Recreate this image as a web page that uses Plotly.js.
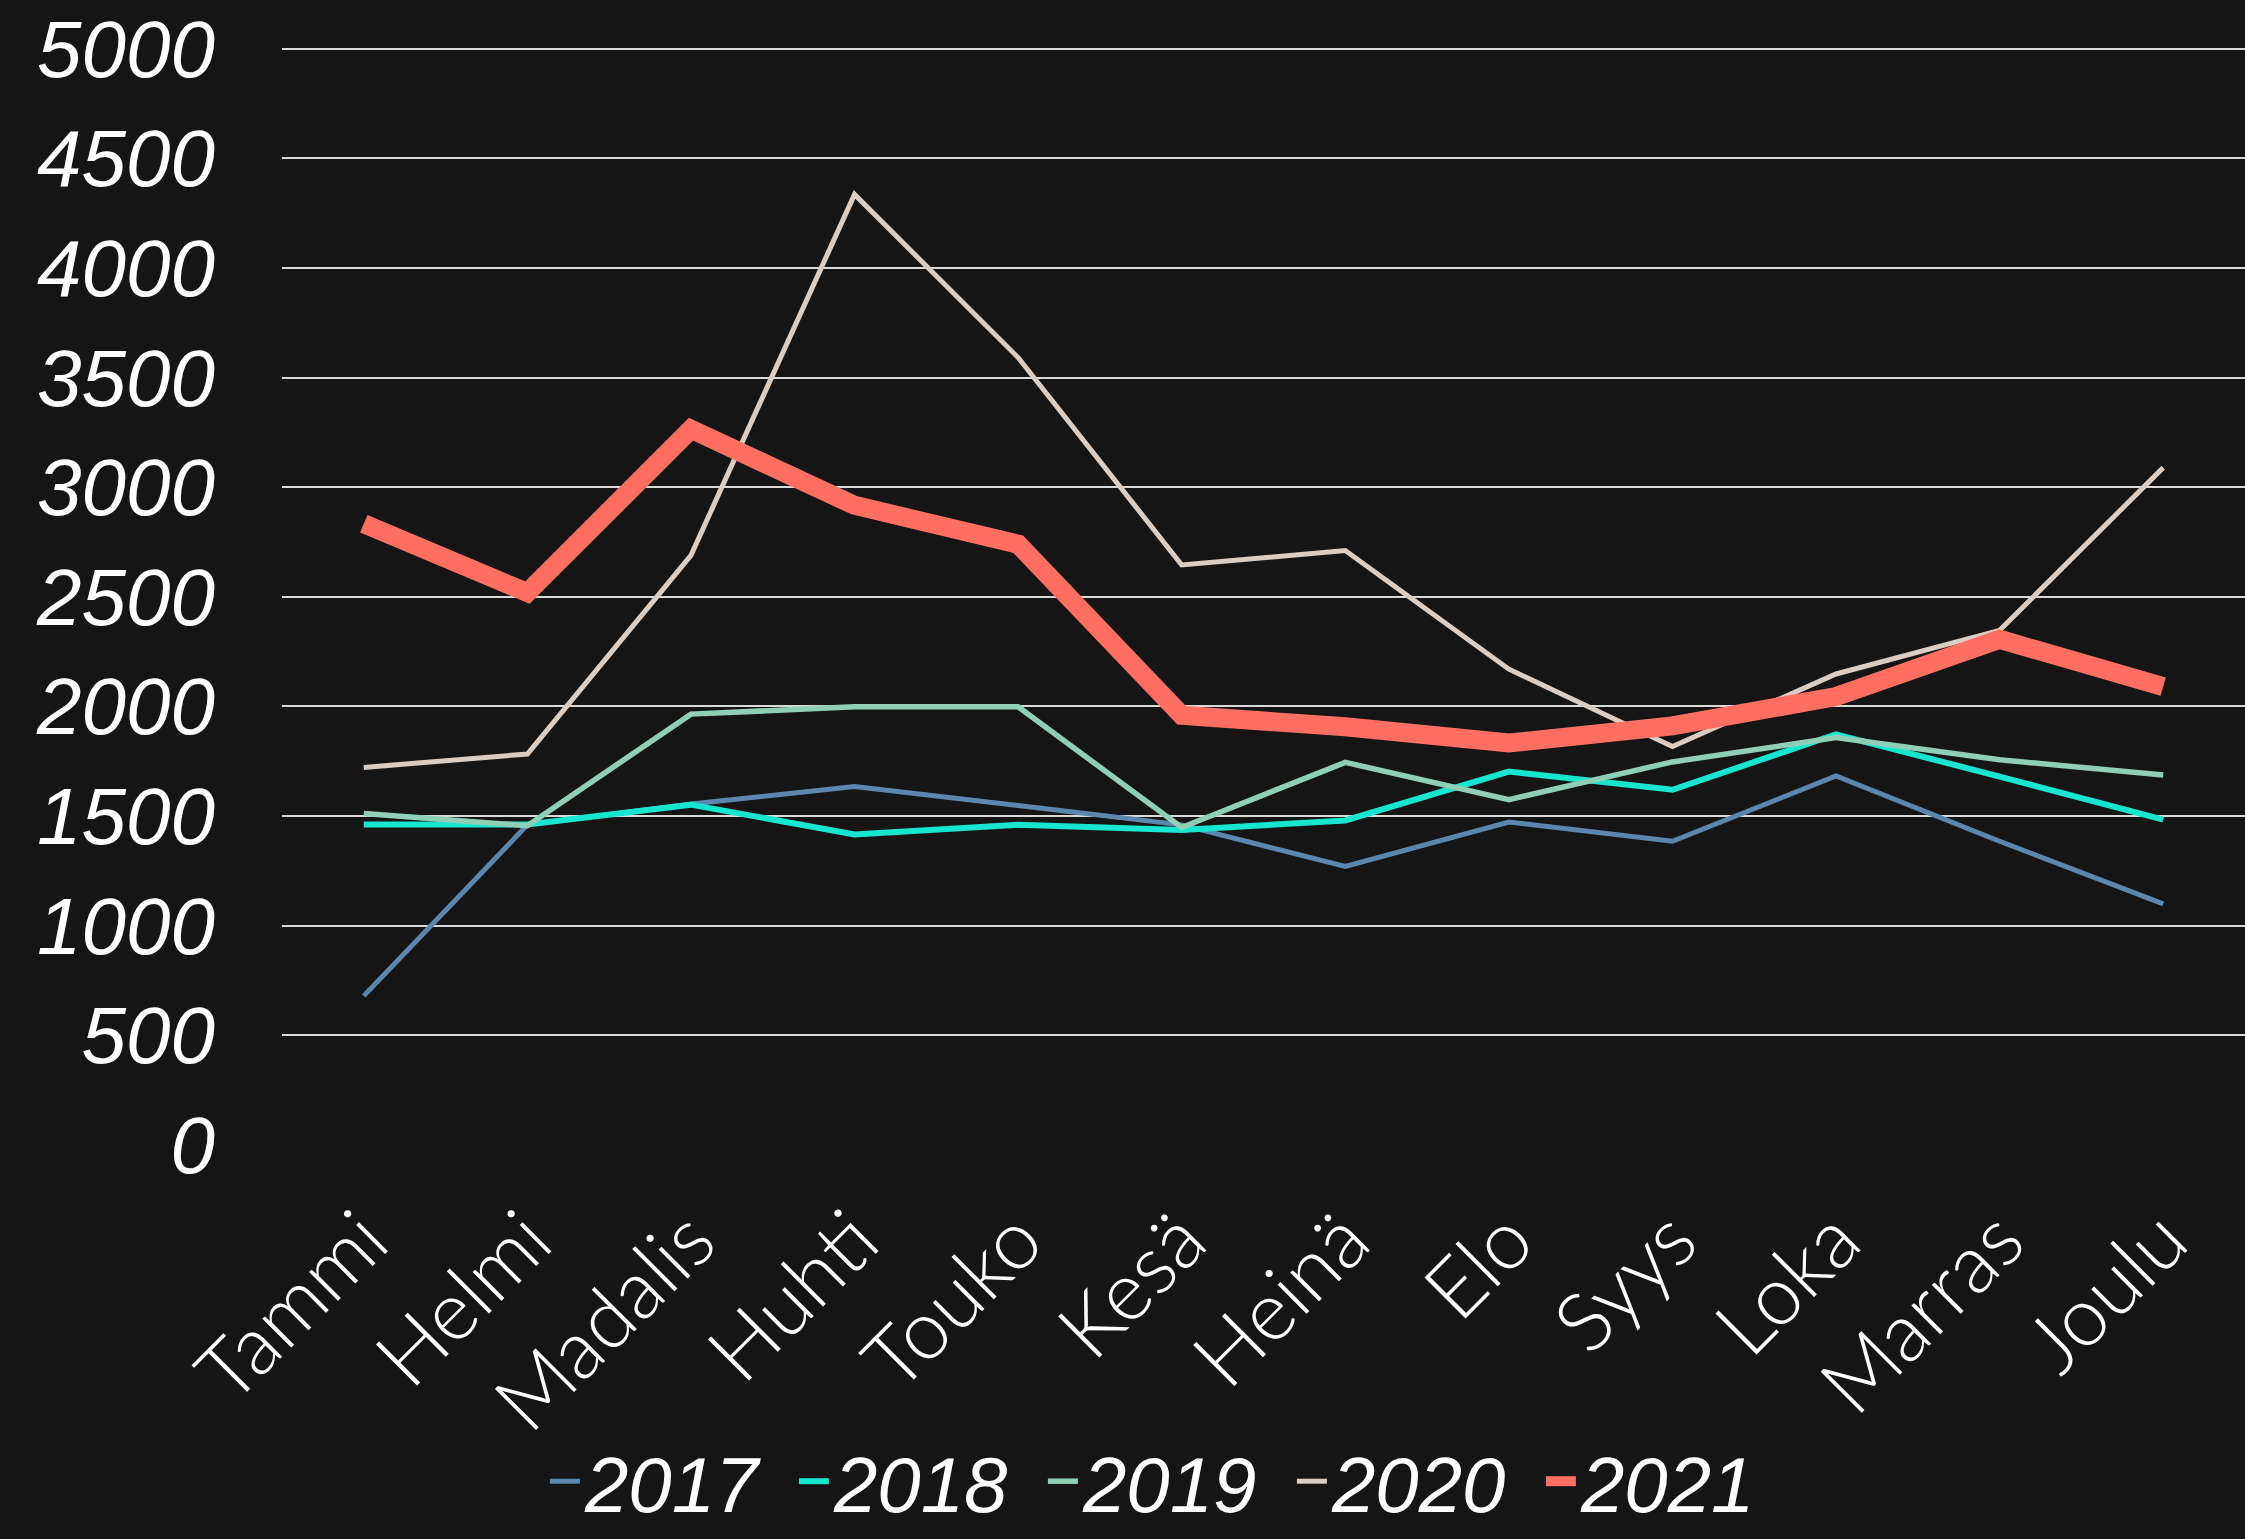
<!DOCTYPE html>
<html>
<head>
<meta charset="utf-8">
<script src="https://cdn.plot.ly/plotly-3.0.1.min.js"></script>
<style>
html,body{margin:0;padding:0;background:#151515;}
#chart{width:2245px;height:1539px;}
</style>
</head>
<body>
<div id="chart"></div>
<script>
const months = ["Tammi","Helmi","Madalis","Huhti","Touko","Kesä","Heinä","Elo","Syys","Loka","Marras","Joulu"];
const years = ["2017","2018","2019","2020","2021"];
const v2017 = [680, 1460, 1555, 1635, 1548, 1460, 1270, 1473, 1385, 1683, 1385, 1100];
const v2018 = [1462, 1462, 1552, 1416, 1460, 1437, 1480, 1703, 1620, 1873, 1680, 1484];
const v2019 = [1512, 1456, 1965, 1998, 1998, 1448, 1745, 1575, 1747, 1858, 1757, 1687];
const v2020 = [1722, 1783, 2689, 4335, 3591, 2645, 2711, 2170, 1817, 2148, 2347, 3089];
const v2021 = [2833, 2519, 3264, 2917, 2740, 1960, 1907, 1833, 1911, 2045, 2306, 2090];
const yTicks = [0,500,1000,1500,2000,2500,3000,3500,4000,4500,5000];

const seriesValues = [v2017, v2018, v2019, v2020, v2021];
const colors = ["#5B87AF", "#16E6D0", "#8FCFB5", "#DCCDC2", "#FF6F61"];
const widths = [5, 6, 5.5, 5, 19];

const traces = years.map((y, i) => ({
  type: "scatter",
  mode: "lines",
  name: y,
  x: months,
  y: seriesValues[i],
  line: {color: colors[i], width: widths[i]},
  hoverinfo: "skip"
}));

const slantFamily = "'Liberation Sans Narrow', 'Liberation Sans', Arial, sans-serif";
const tickFontY = {family: slantFamily, size: 80, color: "#ffffff", style: "italic"};
const legendFont = {family: slantFamily, size: 78, color: "#ffffff", style: "italic"};

const layout = {
  width: 2245,
  height: 1539,
  paper_bgcolor: "#151515",
  plot_bgcolor: "#151515",
  margin: {l: 282, r: 0, t: 42, b: 394},
  showlegend: true,
  xaxis: {
    type: "category",
    range: [-0.5, 11.5],
    showgrid: false,
    showline: false,
    zeroline: false,
    ticks: "",
    tickangle: -45,
    ticklabelstandoff: 30,
    tickfont: {family: "Lato, 'Noto Sans', sans-serif", size: 82, color: "#ffffff", weight: 300}
  },
  yaxis: {
    range: [0, 5030],
    tickvals: yTicks,
    ticktext: yTicks.map(String),
    showgrid: true,
    gridcolor: "#d9d9d9",
    gridwidth: 2,
    zeroline: false,
    showline: false,
    ticks: "",
    ticklabelstandoff: 66,
    tickfont: tickFontY
  },
  legend: {
    orientation: "h",
    xref: "container",
    yref: "container",
    x: 0.52,
    xanchor: "center",
    y: 0,
    yanchor: "bottom",
    font: legendFont,
    itemwidth: 30,
    entrywidth: 204,
    tracegroupgap: 0,
    bgcolor: "rgba(0,0,0,0)"
  }
};

Plotly.newPlot("chart", traces, layout, {staticPlot: true, displayModeBar: false});
</script>
</body>
</html>
